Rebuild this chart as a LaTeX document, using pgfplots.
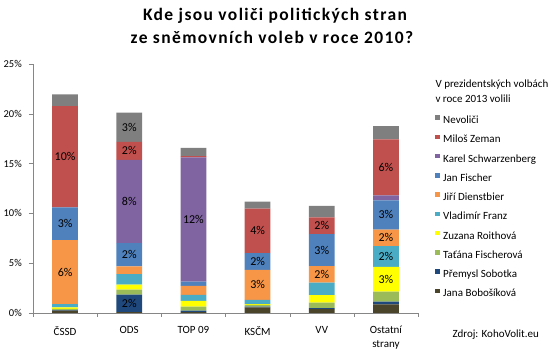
\documentclass[border=0pt]{standalone}
\usepackage{pgfplots}
\usepackage{pgfplotstable}
\pgfplotsset{compat=1.18}
\usepackage{fontspec}
\setmainfont{Carlito}
\definecolor{cNev}{HTML}{7F7F7F}
\definecolor{cZem}{HTML}{C0504D}
\definecolor{cSch}{HTML}{8064A2}
\definecolor{cFis}{HTML}{4F81BD}
\definecolor{cDie}{HTML}{F79646}
\definecolor{cFra}{HTML}{4BACC6}
\definecolor{cRoi}{HTML}{FFFF00}
\definecolor{cTFi}{HTML}{9BBB59}
\definecolor{cSob}{HTML}{1F497D}
\definecolor{cBob}{HTML}{4A452A}
\definecolor{axgray}{HTML}{868686}

\pgfplotstableread{
x Bob Sob TFi Roi Fra Die Fis Sch Zem Nev
0 0.25 0.05 0.12 0.15 0.33 6.42 3.28 0.00 10.17 1.17
1 0.10 1.74 0.50 0.50 1.07 0.77 2.34 8.36 1.80 2.94
2 0.10 0.15 0.40 0.57 0.60 0.90 0.43 12.47 0.13 0.84
3 0.57 0.07 0.17 0.07 0.45 3.00 1.67 0.00 4.48 0.70
4 0.40 0.10 0.53 0.77 1.24 1.67 3.21 0.00 1.67 1.17
5 0.87 0.27 1.00 2.50 2.07 1.67 2.94 0.50 5.60 1.35
}\votes

\pgfplotstableread{
x y lab
0 4.11 6
0 8.96 3
0 15.69 10
1 0.97 2
1 5.85 2
1 11.20 8
1 16.28 2
1 18.65 3
2 9.39 12
3 2.83 3
3 5.17 2
3 8.24 4
4 3.88 2
4 6.32 3
4 8.76 2
5 3.39 3
5 5.68 2
5 7.55 2
5 9.85 3
5 14.62 6
}\labels

\pgfplotsset{
  common/.style={
    at={(33pt,40pt)}, anchor=south west,
    scale only axis, width=385pt, height=249pt,
    xmin=-0.5, xmax=5.5, ymin=0, ymax=25,
  }
}

\begin{document}
\begin{tikzpicture}
\path[use as bounding box] (0,0) rectangle (560pt,353pt);
\begin{axis}[
  common,
  ybar stacked, bar width=25.7pt,
  axis x line*=bottom, axis y line*=left,
  axis line style={draw=axgray,-},
  tick align=outside,
  major tick length=4pt, minor tick length=4pt,
  tick style={draw=axgray},
  xtick={0,1,2,3,4,5},
  xticklabels={ČSSD,ODS,TOP 09,KSČM,VV,{Ostatní\\strany}},
  major x tick style={draw=none},
  minor xtick={-0.5,0.5,1.5,2.5,3.5,4.5,5.5},
  xticklabel style={align=center, font=\fontsize{11}{13.3}\selectfont, inner sep=0pt, anchor=north, yshift=-9pt},
  ytick={0,5,10,15,20,25},
  yticklabels={0\%,5\%,10\%,15\%,20\%,25\%},
  yticklabel style={font=\fontsize{10.5}{12}\selectfont, anchor=east, inner sep=0pt, xshift=-7pt},
  reverse legend,
  legend cell align=left,
  legend style={draw=none, fill=none, at={(1.0442,0.794)}, anchor=north west,
    inner sep=0pt, outer sep=0pt, font=\fontsize{11}{13}\selectfont,
    row sep=8.3pt, column sep=3.5pt,
    nodes={inner sep=0pt, text height=8pt, text depth=2.5pt}},
  legend image code/.code={\fill[#1,draw=none] (0pt,1pt) rectangle (4.7pt,5.7pt);},
]
\addplot[fill=cBob, draw=none] table[x=x,y=Bob] {\votes};
\addplot[fill=cSob, draw=none] table[x=x,y=Sob] {\votes};
\addplot[fill=cTFi, draw=none] table[x=x,y=TFi] {\votes};
\addplot[fill=cRoi, draw=none] table[x=x,y=Roi] {\votes};
\addplot[fill=cFra, draw=none] table[x=x,y=Fra] {\votes};
\addplot[fill=cDie, draw=none] table[x=x,y=Die] {\votes};
\addplot[fill=cFis, draw=none] table[x=x,y=Fis] {\votes};
\addplot[fill=cSch, draw=none] table[x=x,y=Sch] {\votes};
\addplot[fill=cZem, draw=none] table[x=x,y=Zem] {\votes};
\addplot[fill=cNev, draw=none] table[x=x,y=Nev] {\votes};
\legend{Jana Bobošíková,Přemysl Sobotka,Taťána Fischerová,Zuzana Roithová,Vladimír Franz,Jiří Dienstbier,Jan Fischer,Karel Schwarzenberg,Miloš Zeman,Nevoliči}
\end{axis}
\begin{axis}[common, hide axis]
\addplot[draw=none, mark=none, nodes near coords={\pgfmathprintnumber[assume math mode=true]{\pgfplotspointmeta}\%},
  point meta=explicit,
  every node near coord/.append style={anchor=center, inner sep=0pt, font=\fontsize{12}{14}\selectfont, text=black}]
  table[x=x, y=y, meta=lab] {\labels};
\end{axis}
\node[anchor=base, inner sep=0pt, font=\fontsize{17.5}{22.6}\selectfont\bfseries\addfontfeature{LetterSpace=8}] at (275pt,332.3pt) {Kde jsou voliči politických stran};
\node[anchor=base, inner sep=0pt, font=\fontsize{17.5}{22.6}\selectfont\bfseries\addfontfeature{LetterSpace=8}] at (272pt,309.7pt) {ze sněmovních voleb v roce 2010?};
\node[anchor=base west, font=\fontsize{11}{13}\selectfont] at (432pt,265.7pt) {V prezidentských volbách};
\node[anchor=base west, font=\fontsize{11}{13}\selectfont] at (432pt,250.7pt) {v roce 2013 volili};
\node[anchor=base west, font=\fontsize{11}{13}\selectfont] at (449pt,15.3pt) {Zdroj: KohoVolit.eu};
\end{tikzpicture}
\end{document}
